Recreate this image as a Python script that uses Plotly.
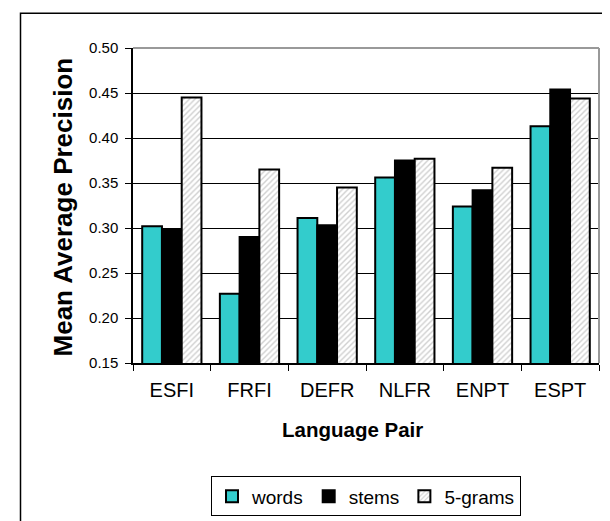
import plotly.graph_objects as go

categories = ["ESFI", "FRFI", "DEFR", "NLFR", "ENPT", "ESPT"]
words = [0.302, 0.227, 0.311, 0.356, 0.324, 0.413]
stems = [0.299, 0.290, 0.303, 0.375, 0.342, 0.454]
grams5 = [0.445, 0.365, 0.345, 0.377, 0.367, 0.444]

W, H = 610, 521
L, R, T, B = 125, 19, 40, 159
pw = W - L - R
ph = H - T - B

def px_x(x):
    return (x - L) / pw

def px_y(y):
    return (H - B - y) / ph

FONT = "Liberation Sans, Arial, sans-serif"

fig = go.Figure()
fig.add_trace(go.Bar(x=categories, y=words, name="words",
                     marker=dict(color="#33CCCC", line=dict(color="black", width=2))))
fig.add_trace(go.Bar(x=categories, y=stems, name="stems",
                     marker=dict(color="black", line=dict(color="black", width=2))))
fig.add_trace(go.Bar(x=categories, y=grams5, name="5-grams",
                     marker=dict(color="white", line=dict(color="black", width=2),
                                 pattern=dict(shape="/", fgcolor="#a0a0a0", bgcolor="white",
                                              size=4, solidity=0.35))))

fig.update_layout(
    width=W, height=H,
    margin=dict(l=L, r=R, t=T, b=B, pad=0),
    paper_bgcolor="white", plot_bgcolor="white",
    barmode="group", bargap=0.237, bargroupgap=0,
    font=dict(family=FONT, color="black"),
    showlegend=True,
    legend=dict(orientation="h", x=0.5, xanchor="center", y=px_y(478), yanchor="top",
                bordercolor="black", borderwidth=1, bgcolor="white",
                font=dict(size=19, family=FONT), itemwidth=30, traceorder="normal"),
    xaxis=dict(showline=True, linecolor="black", linewidth=1.5, ticks="outside",
               tickson="boundaries", ticklen=6, tickcolor="black", tickwidth=1,
               tickfont=dict(size=20, family=FONT), ticklabelstandoff=8,
               showgrid=False, fixedrange=True),
    yaxis=dict(range=[0.15, 0.50], dtick=0.05, tick0=0.15, tickformat=".2f",
               showline=True, linecolor="black", linewidth=1.5, ticks="outside",
               ticklen=6, tickcolor="black", tickwidth=1,
               tickfont=dict(size=15, family=FONT), ticklabelstandoff=4,
               showgrid=True, gridcolor="black", gridwidth=1, zeroline=False,
               fixedrange=True),
    annotations=[
        dict(text="<b>Mean Average Precision</b>", xref="paper", yref="paper",
             x=px_x(55), y=px_y(203), xanchor="center", yanchor="middle",
             textangle=-90, showarrow=False, font=dict(size=26, family=FONT)),
        dict(text="<b>Language Pair</b>", xref="paper", yref="paper",
             x=px_x(344), y=px_y(430), xanchor="center", yanchor="middle",
             showarrow=False, font=dict(size=20.5, family=FONT)),
    ],
    shapes=[
        dict(type="line", xref="paper", yref="paper", x0=0, x1=1, y0=1, y1=1,
             line=dict(color="#999999", width=2), layer="above"),
        dict(type="line", xref="paper", yref="paper", x0=1, x1=1, y0=0, y1=1,
             line=dict(color="#999999", width=2), layer="above"),
        dict(type="rect", xref="paper", yref="paper",
             x0=px_x(12.5), x1=px_x(630), y0=px_y(540), y1=px_y(4.5),
             line=dict(color="black", width=1.5), layer="below"),
    ],
)

fig.write_html("out.html")
